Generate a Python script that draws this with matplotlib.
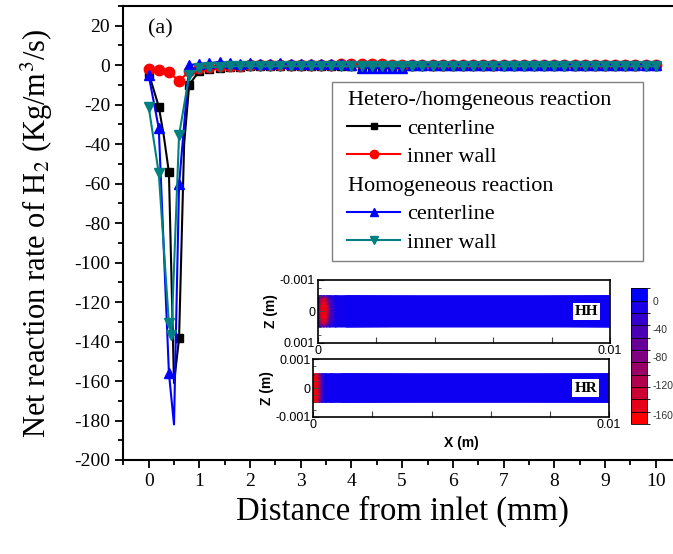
"""
Net H2 reaction rate along the channel, with contour insets
"""
import matplotlib
import matplotlib.pyplot as plt
import numpy as np
from matplotlib.colors import BoundaryNorm, ListedColormap, LinearSegmentedColormap, Normalize
from matplotlib.lines import Line2D
from matplotlib.ticker import MultipleLocator

matplotlib.use("Agg")
plt.rcParams["font.family"] = ["Liberation Serif", "DejaVu Serif"]
plt.rcParams["mathtext.fontset"] = "stix"
plt.rcParams["axes.unicode_minus"] = False

# inlet region (finer sampling, markers only every 0.2 mm)
x_hh_center = [0.0, 0.2, 0.3, 0.4, 0.5, 0.6, 0.7, 0.8]
y_hh_center = [-4.0, -21.0, -36.0, -54.3, -161.0, -138.4, -40.0, -9.8]
x_hh_wall = [0.0, 0.2, 0.4, 0.6, 0.8]
y_hh_wall = [-1.7, -2.5, -3.4, -8.1, -3.0]
x_ho_center = [0.0, 0.2, 0.4, 0.5, 0.6, 0.8]
y_ho_center = [-5.0, -32.0, -156.0, -182.0, -60.4, 0.0]
x_ho_wall = [0.0, 0.2, 0.4, 0.45, 0.6, 0.8]
y_ho_wall = [-21.0, -54.8, -130.8, -136.5, -35.4, -5.0]

# downstream, 1.0 .. 10.0 mm every 0.2 mm
x_tail = np.round(np.arange(1.0, 10.01, 0.2), 1)
tail_hh_center = [-3.0, -2.0, -1.5, -1.0, -0.8, -0.6, -0.5, -0.5, -0.4, -0.4,
                  -0.3, -0.3, -0.3, -0.3, -0.2, -0.2, -0.2, -0.2, -0.2, -0.2,
                  -0.2, -0.2, -0.2, -0.2, -0.2, -0.2, -0.2, -0.2, -0.2, -0.2,
                  -0.2, -0.2, -0.2, -0.2, -0.2, -0.2, -0.2, -0.2, -0.2, -0.2,
                  -0.2, -0.2, -0.2, -0.2, -0.2, -0.2]
tail_hh_wall = [-1.5, -1.0, -0.6, -0.4, -0.2, 0.0, 0.2, 0.3, 0.3, 0.3,
                0.3, 0.3, 0.3, 0.3, 0.4, 0.5, 0.6, 0.8, 0.6, 0.3,
                0.2, 0.2, 0.2, 0.2, 0.1, 0.1, 0.1, 0.1, 0.1, 0.1,
                0.1, 0.1, 0.1, 0.1, 0.1, 0.1, 0.1, 0.1, 0.1, 0.1,
                0.1, 0.1, 0.1, 0.1, 0.1, 0.1]
tail_ho_center = [0.8, 1.0, 1.7, 1.0, 0.8, 1.2, 0.8, 0.8, 0.9, 0.7,
                  0.7, 0.6, 0.6, 0.6, 0.5, 0.3, -1.2, -1.5, -1.5, -1.6,
                  -1.5, 0.3, 0.3, 0.3, 0.3, 0.3, 0.3, 0.3, 0.3, 0.3,
                  0.3, 0.3, 0.3, 0.3, 0.3, 0.3, 0.3, 0.3, 0.3, 0.3,
                  0.3, 0.3, 0.3, 0.3, 0.3, 0.3]
tail_ho_wall = [-1.5, -1.0, -0.8, -0.6, -0.5, -0.5, -0.5, -0.5, -0.5, -0.5,
                -0.5, -0.5, -0.5, -0.5, -0.5, -0.5, -0.5, -0.5, -0.5, -0.5,
                -0.5, -0.5, -0.5, -0.5, -0.5, -0.5, -0.5, -0.5, -0.5, -0.5,
                -0.5, -0.5, -0.5, -0.5, -0.5, -0.5, -0.5, -0.5, -0.5, -0.5,
                -0.5, -0.5, -0.5, -0.5, -0.5, -0.5]

labels = ["centerline", "inner wall", "centerline", "inner wall"]
headers = ["Hetero-/homgeneous reaction", "Homogeneous reaction"]

# contour insets: channel field, rows = z, columns = x
field_x = [0.0, 0.0001, 0.0002, 0.0003, 0.0004, 0.0006, 0.001, 0.01]
field_z = [-0.0005, -0.0004, -0.0002, 0.0, 0.0002, 0.0004, 0.0005]
field_hh = [
    [-5, -20, -30, -20, -5, 0, 0, 0],
    [-15, -100, -140, -100, -30, -5, 0, 0],
    [-20, -140, -165, -140, -50, -5, 0, 0],
    [-20, -150, -167, -150, -55, -5, 0, 0],
    [-20, -140, -165, -140, -50, -5, 0, 0],
    [-15, -100, -140, -100, -30, -5, 0, 0],
    [-5, -20, -30, -20, -5, 0, 0, 0],
]
field_hr = [
    [-160, -150, -80, -20, 0, 0, 0, 0],
    [-165, -160, -100, -30, -5, 0, 0, 0],
    [-167, -165, -110, -35, -5, 0, 0, 0],
    [-167, -165, -110, -35, -5, 0, 0, 0],
    [-167, -165, -110, -35, -5, 0, 0, 0],
    [-165, -160, -100, -30, -5, 0, 0, 0],
    [-160, -150, -80, -20, 0, 0, 0, 0],
]
cbar_bounds = [-167, -157.5, -140, -122.5, -105, -87.5, -70, -52.5, -35, -17.5, 0, 9]
cbar_ticks = [0, -40, -80, -120, -160]


def full(x_head, y_head, tail):
    x = list(x_head) + list(x_tail)
    y = list(y_head) + list(tail)
    marks = [i for i, v in enumerate(x) if round(v * 10) % 2 == 0]
    return x, y, marks


fig = plt.figure(figsize=(6.73, 5.54), dpi=100)
ax = fig.add_axes([0.1832, 0.1697, 0.8287, 0.8195])

series = [
    (x_hh_center, y_hh_center, tail_hh_center, "black", "s", 6),
    (x_hh_wall, y_hh_wall, tail_hh_wall, "red", "o", 7.5),
    (x_ho_center, y_ho_center, tail_ho_center, "blue", "^", 7.5),
    (x_ho_wall, y_ho_wall, tail_ho_wall, "#008080", "v", 7.5),
]
for (xh, yh, tail, color, marker, ms), label in zip(series, labels):
    x, y, marks = full(xh, yh, tail)
    ax.plot(x, y, color=color, marker=marker, markersize=ms, lw=1.5,
            markevery=marks, label=label)

ax.set_xlim(-0.5, 10.5)
ax.set_ylim(-200, 30)
ax.xaxis.set_major_locator(MultipleLocator(1))
ax.xaxis.set_minor_locator(MultipleLocator(0.5))
ax.yaxis.set_major_locator(MultipleLocator(20))
ax.yaxis.set_minor_locator(MultipleLocator(10))
ax.tick_params(which="both", direction="out", width=1.3, labelsize=14)
ax.tick_params(which="major", length=6)
ax.tick_params(which="minor", length=3.5)
for sp in ax.spines.values():
    sp.set_linewidth(1.5)
ax.set_xlabel("Distance from inlet (mm)", fontsize=23.5, labelpad=4)
ax.set_ylabel("Net reaction rate of H$_2$ (Kg/m$^3$/s)", fontsize=22, labelpad=14)
ax.text(0.044, 0.95, "(a)", transform=ax.transAxes, fontsize=16, va="center")

# legend with two header rows
h = ax.get_legend_handles_labels()[0]
blank = Line2D([], [], linestyle="none")
leg = ax.legend([blank, h[0], h[1], blank, h[2], h[3]],
                [headers[0], labels[0], labels[1], headers[1], labels[2], labels[3]],
                loc="upper left", bbox_to_anchor=(0.375, 0.833, 0.557, 0),
                mode="expand", borderaxespad=0, fontsize=16,
                handlelength=2.4, handletextpad=0.3, labelspacing=0.36,
                borderpad=0.35, fancybox=False, framealpha=1, edgecolor="#808080",
                markerscale=0.8)
leg.get_frame().set_linewidth(1.0)
indent = 5  # points, extra left inset of the legend rows
for vpack in leg._legend_handle_box.get_children():
    for i, hpack in enumerate(vpack.get_children()):
        da = hpack.get_children()[0]
        if i in (0, 3):
            da.width = 0.8
            hpack.sep = 0
        else:
            da.width += indent
            da.xdescent = indent

# insets
cmap = LinearSegmentedColormap.from_list("rb", ["red", "#800080", "blue"])
norm = Normalize(vmin=-167, vmax=9)
sans = ["Liberation Sans", "DejaVu Sans"]
inset_specs = [
    ([0.4725, 0.3814, 0.4339, 0.1132], field_hh, "HH", (0.001, -0.001)),
    ([0.4655, 0.2478, 0.4394, 0.1036], field_hr, "HR", (-0.001, 0.001)),
]
for pos, field, tag, ylim in inset_specs:
    ia = fig.add_axes(pos)
    ia.pcolormesh(field_x, field_z, np.array(field), cmap=cmap, norm=norm,
                  shading="gouraud")
    ia.set_xlim(0, 0.01)
    ia.set_ylim(*ylim)
    ia.set_xticks([0, 0.002, 0.004, 0.006, 0.008, 0.01])
    ia.set_xticklabels(["0", "", "", "", "", "0.01"])
    ia.set_yticks([-0.001, 0, 0.001])
    ia.set_yticklabels(["-0.001", "0", "0.001"])
    ia.yaxis.set_minor_locator(MultipleLocator(0.00025))
    ia.tick_params(which="both", direction="in", labelsize=9, pad=2,
                   top=False, right=False, color="#444444")
    ia.tick_params(which="major", length=4)
    ia.tick_params(which="minor", length=2)
    for lab in ia.get_xticklabels() + ia.get_yticklabels():
        lab.set_family(sans)
    for sp in ia.spines.values():
        sp.set_linewidth(1.2)
    ia.set_ylabel("Z (m)", fontsize=10, fontweight="bold", family=sans, labelpad=1)
    ia.text(0.96, 0.5, tag, transform=ia.transAxes, ha="right", va="center",
            fontsize=11, fontweight="bold",
            bbox=dict(facecolor="white", edgecolor="none", pad=1.5))
ia.set_xlabel("X (m)", fontsize=10, fontweight="bold", family=sans, labelpad=3)

cax = fig.add_axes([0.9372, 0.2347, 0.0247, 0.245])
band_cmap = ListedColormap(cmap(np.linspace(0, 1, len(cbar_bounds) - 1)))
sm = matplotlib.cm.ScalarMappable(norm=BoundaryNorm(cbar_bounds, band_cmap.N), cmap=band_cmap)
cb = fig.colorbar(sm, cax=cax, ticks=cbar_ticks, drawedges=True)
cb.outline.set_linewidth(0.6)
cb.dividers.set_linewidth(0.6)
cax.tick_params(labelsize=7.5, length=0, pad=4, labelcolor="#333333")
for lab in cax.get_yticklabels():
    lab.set_family(sans)

fig.savefig("out.png", dpi=100)
